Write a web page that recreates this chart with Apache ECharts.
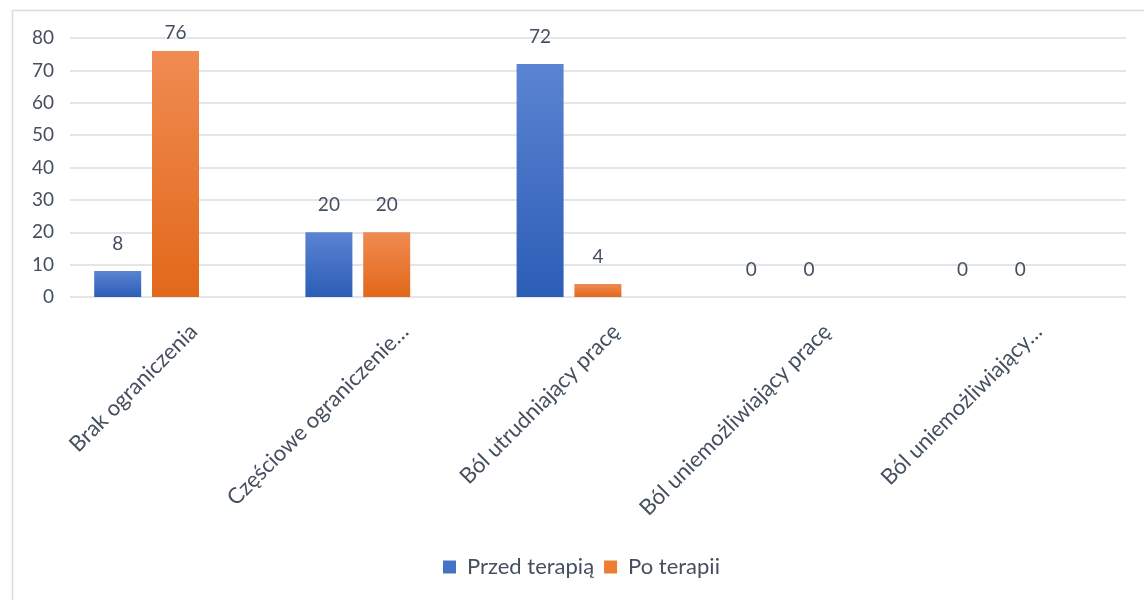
<!DOCTYPE html>
<html>
<head>
<meta charset="utf-8">
<script src="https://cdn.jsdelivr.net/npm/echarts@6/dist/echarts.min.js"></script>
<style>
  html, body { margin: 0; padding: 0; background: #ffffff; }
  #chart { width: 1144px; height: 600px; }
</style>
</head>
<body>
<div id="chart"></div>
<script>
// Categories and values
const categories = [
  'Brak ograniczenia',
  'Częściowe ograniczenie…',
  'Ból utrudniający pracę',
  'Ból uniemożliwiający pracę',
  'Ból uniemożliwiający…'
];
const seriesNames = ['Przed terapią', 'Po terapii'];
const beforeValues = [8, 20, 72, 0, 0];
const afterValues = [76, 20, 4, 0, 0];
const yTicks = { min: 0, max: 80, interval: 10 };

const textColor = '#44505f';
const fontFamily = 'Lato, "Open Sans", sans-serif';

function grad(top, bottom) {
  return new echarts.graphic.LinearGradient(0, 0, 0, 1, [
    { offset: 0, color: top },
    { offset: 1, color: bottom }
  ]);
}

const labelStyle = {
  show: true,
  position: 'top',
  distance: 18,
  fontSize: 19,
  color: textColor,
  fontFamily: fontFamily
};

// Labels of bars reaching the top of the plot are pulled closer so they stay inside it
function toBarData(values) {
  return values.map(function (v) {
    if (v > yTicks.max - 6) {
      return { value: v, label: { distance: 9 } };
    }
    return v;
  });
}

const chart = echarts.init(document.getElementById('chart'), null, { renderer: 'canvas' });

chart.setOption({
  animation: false,
  backgroundColor: '#ffffff',
  graphic: [{
    type: 'rect',
    left: 10, top: 8,
    shape: { width: 1160, height: 620 },
    style: { fill: 'none', stroke: '#d9dce0', lineWidth: 1.5 },
    silent: true
  }],
  legend: {
    bottom: 22,
    left: 443,
    padding: 0,
    itemWidth: 13,
    itemHeight: 13,
    itemGap: 10,
    icon: 'rect',
    textStyle: { fontSize: 22, color: textColor, fontFamily: fontFamily, padding: [0, 0, 0, 6] },
    data: [
      { name: seriesNames[0], itemStyle: { color: '#4472c4' } },
      { name: seriesNames[1], itemStyle: { color: '#ed7d31' } }
    ]
  },
  grid: [
    // value scale and gridlines
    { left: 70, right: 18, top: 38, bottom: 303 },
    // bar columns
    { left: 41, right: 47, top: 38, bottom: 303 },
    // category labels
    { left: 88, right: -31, top: 38, bottom: 303 }
  ],
  xAxis: [
    {
      type: 'category', gridIndex: 0, data: categories,
      axisLine: { show: false }, axisTick: { show: false },
      axisLabel: { show: false }
    },
    {
      type: 'category', gridIndex: 1, data: categories,
      axisLine: { show: false }, axisTick: { show: false },
      axisLabel: { show: false }
    },
    {
      type: 'category', gridIndex: 2, data: categories,
      axisLine: { show: false }, axisTick: { show: false },
      axisLabel: {
        interval: 0, rotate: 45, margin: 31,
        fontSize: 22, color: textColor, fontFamily: fontFamily
      }
    }
  ],
  yAxis: [
    {
      type: 'value', gridIndex: 0,
      min: yTicks.min, max: yTicks.max, interval: yTicks.interval,
      axisLine: { show: false }, axisTick: { show: false },
      axisLabel: { margin: 16, fontSize: 19, color: textColor, fontFamily: fontFamily },
      splitLine: { lineStyle: { color: '#d9dde3', width: 1.5 } }
    },
    {
      type: 'value', gridIndex: 1,
      min: yTicks.min, max: yTicks.max, interval: yTicks.interval,
      axisLine: { show: false }, axisTick: { show: false },
      axisLabel: { show: false }, splitLine: { show: false }
    },
    {
      type: 'value', gridIndex: 2,
      min: yTicks.min, max: yTicks.max, interval: yTicks.interval,
      axisLine: { show: false }, axisTick: { show: false },
      axisLabel: { show: false }, splitLine: { show: false }
    }
  ],
  series: [
    {
      name: seriesNames[0], type: 'bar', xAxisIndex: 1, yAxisIndex: 1,
      data: toBarData(beforeValues), barWidth: 47, barGap: '23%',
      itemStyle: { color: grad('#5b84d2', '#2c5db7') },
      label: labelStyle
    },
    {
      name: seriesNames[1], type: 'bar', xAxisIndex: 1, yAxisIndex: 1,
      data: toBarData(afterValues), barWidth: 47, barGap: '23%',
      itemStyle: { color: grad('#f08b52', '#e2681a') },
      label: labelStyle
    }
  ]
});
</script>
</body>
</html>
